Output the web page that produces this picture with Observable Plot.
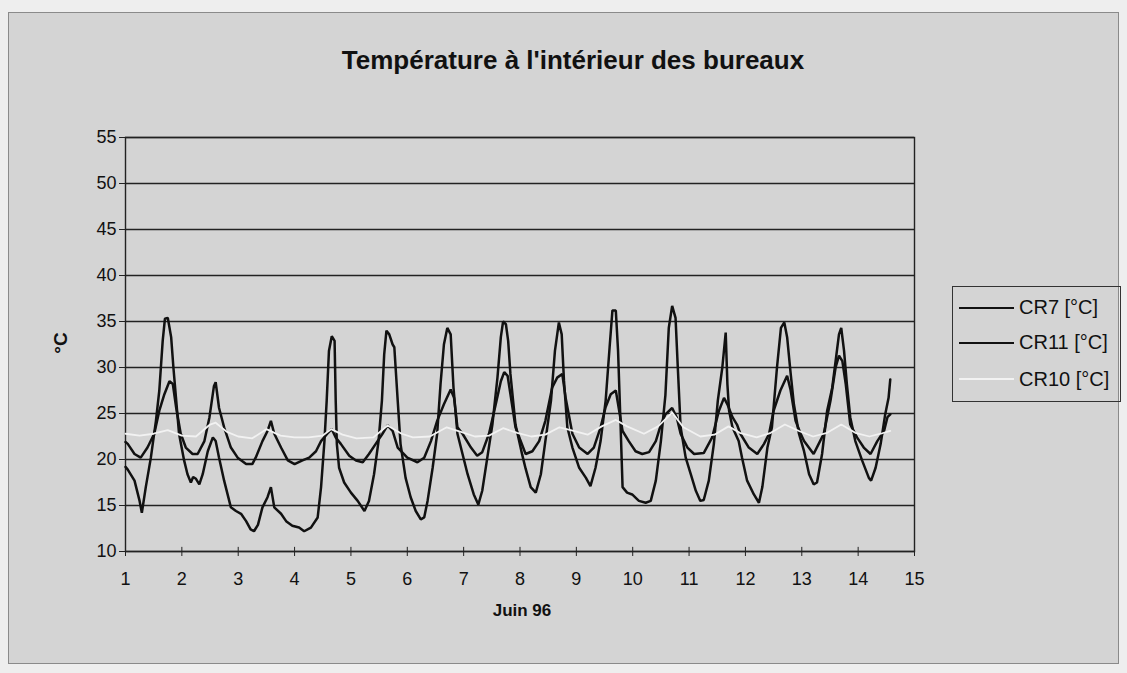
<!DOCTYPE html>
<html>
<head>
<meta charset="utf-8">
<script src="https://cdn.jsdelivr.net/npm/d3@7"></script>
<script src="https://cdn.jsdelivr.net/npm/@observablehq/plot@0.6"></script>
<style>
  html, body { margin: 0; padding: 0; }
  body { width: 1127px; height: 673px; background: #eeeeee; position: relative; overflow: hidden;
         font-family: "Liberation Sans", Arial, sans-serif; color: #111; }
  #frame { position: absolute; left: 8px; top: 12px; width: 1111px; height: 652px; background: #d4d4d4; border: 1px solid #8a8a8a; box-sizing: border-box; }
  #chart { position: absolute; left: 0; top: 0; }
  .abs { position: absolute; white-space: nowrap; }
  #title { left: 0; width: 1146px; top: 47px; text-align: center; font-weight: bold; font-size: 26px; line-height: 26px; }
  #ylab { left: 61px; top: 343px; transform: translate(-50%, -50%) rotate(-90deg); font-weight: bold; font-size: 19px; }
  #xlab { left: 522px; top: 611px; transform: translate(-50%, -50%); font-weight: bold; font-size: 17px; }
  #legend { position: absolute; left: 952px; top: 286px; width: 169px; height: 116px; border: 1px solid #333; box-sizing: border-box; }
  .row { position: absolute; left: 6px; height: 24px; display: flex; align-items: center; font-size: 20px; }
  .row svg { margin-right: 5px; }
</style>
</head>
<body>
<div id="frame"></div>
<div id="chart"></div>
<div id="title" class="abs">Température à l'intérieur des bureaux</div>
<div id="ylab" class="abs">°C</div>
<div id="xlab" class="abs">Juin 96</div>
<div id="legend"></div>
<script>
// ---- data (day of June 1996, temperature °C) ----
const seriesNames = ["CR7 [°C]", "CR11 [°C]", "CR10 [°C]"];
const xTicks = [1,2,3,4,5,6,7,8,9,10,11,12,13,14,15];
const yTicks = [10,15,20,25,30,35,40,45,50,55];

const cr7 = [
[1.00,19.2],[1.04,18.9],[1.16,17.7],[1.25,15.5],[1.29,14.2],[1.36,17.0],[1.45,20.2],[1.54,24.2],[1.60,27.5],[1.66,32.9],
[1.70,35.3],[1.75,35.4],[1.81,33.3],[1.85,30.0],[1.90,26.4],[1.95,22.8],[2.04,19.9],[2.10,18.4],[2.16,17.5],[2.20,18.1],
[2.25,17.9],[2.31,17.3],[2.37,18.4],[2.46,20.9],[2.55,22.4],[2.60,22.0],[2.66,20.2],[2.75,17.7],[2.87,14.8],[2.96,14.4],
[3.05,14.1],[3.14,13.3],[3.22,12.4],[3.28,12.2],[3.35,12.9],[3.43,14.8],[3.52,15.9],[3.58,17.0],[3.64,14.8],[3.76,14.1],
[3.85,13.3],[3.96,12.8],[4.08,12.6],[4.17,12.2],[4.29,12.6],[4.41,13.7],[4.47,17.0],[4.53,22.0],[4.57,26.4],[4.61,31.8],
[4.66,33.4],[4.71,32.9],[4.73,26.4],[4.75,21.7],[4.79,19.1],[4.88,17.5],[5.00,16.4],[5.12,15.5],[5.24,14.4],[5.32,15.5],
[5.41,18.4],[5.49,22.0],[5.55,26.4],[5.59,31.4],[5.63,34.0],[5.68,33.6],[5.74,32.5],[5.77,32.2],[5.83,26.4],[5.88,21.7],
[5.97,18.0],[6.06,15.9],[6.15,14.4],[6.24,13.5],[6.30,13.7],[6.36,15.5],[6.45,19.1],[6.53,22.8],[6.59,28.2],[6.65,32.5],
[6.71,34.3],[6.77,33.6],[6.82,27.8],[6.89,22.8],[6.98,20.6],[7.07,18.4],[7.18,16.2],[7.26,15.1],[7.33,16.6],[7.42,20.2],
[7.51,23.8],[7.60,28.9],[7.66,33.3],[7.70,35.0],[7.75,34.7],[7.79,32.9],[7.83,29.3],[7.92,23.8],[8.04,20.5],[8.10,19.0],
[8.19,17.0],[8.28,16.4],[8.37,18.4],[8.45,22.0],[8.55,26.4],[8.62,31.8],[8.69,34.9],[8.74,33.6],[8.78,28.6],[8.84,23.5],
[8.93,21.3],[9.05,19.1],[9.17,18.0],[9.25,17.1],[9.34,19.1],[9.43,22.0],[9.52,26.4],[9.59,32.2],[9.64,36.2],[9.70,36.2],
[9.74,31.8],[9.78,24.6],[9.82,17.0],[9.90,16.4],[9.99,16.2],[10.11,15.5],[10.23,15.3],[10.32,15.5],[10.41,17.7],[10.50,22.0],
[10.58,27.0],[10.64,34.3],[10.70,36.7],[10.76,35.4],[10.80,30.0],[10.85,23.5],[10.94,20.2],[11.03,18.4],[11.12,16.6],[11.20,15.5],
[11.26,15.6],[11.35,17.7],[11.44,21.7],[11.51,26.4],[11.59,30.0],[11.65,33.8],[11.68,28.2],[11.71,25.3],[11.77,23.5],[11.88,22.0],
[11.94,20.2],[12.03,17.7],[12.15,16.2],[12.24,15.3],[12.30,17.0],[12.39,21.3],[12.47,23.5],[12.56,30.0],[12.63,34.3],[12.69,34.9],
[12.74,33.3],[12.80,29.5],[12.86,26.0],[12.95,22.8],[13.04,20.9],[13.13,18.4],[13.21,17.3],[13.27,17.5],[13.36,20.6],[13.45,25.3],
[13.54,27.8],[13.60,30.7],[13.66,33.6],[13.70,34.3],[13.75,31.8],[13.80,28.2],[13.86,24.6],[13.95,22.0],[14.07,19.9],[14.19,18.0],
[14.23,17.7],[14.31,19.1],[14.40,21.7],[14.48,24.9],[14.54,26.7],[14.57,28.7]
];

const cr11 = [
[1.00,21.9],[1.04,21.7],[1.16,20.6],[1.27,20.2],[1.39,21.3],[1.51,22.8],[1.60,25.3],[1.69,27.1],[1.78,28.5],[1.84,28.2],
[1.90,25.6],[1.98,22.8],[2.07,21.3],[2.19,20.6],[2.28,20.6],[2.40,22.0],[2.49,24.6],[2.57,28.0],[2.60,28.4],[2.66,25.6],
[2.75,23.5],[2.87,21.3],[2.99,20.2],[3.14,19.5],[3.25,19.5],[3.31,20.2],[3.43,22.0],[3.52,23.1],[3.58,24.2],[3.64,22.8],
[3.76,21.3],[3.88,19.9],[4.00,19.5],[4.14,19.9],[4.26,20.2],[4.38,20.9],[4.47,22.0],[4.58,22.8],[4.66,23.3],[4.73,22.4],
[4.82,21.7],[4.97,20.4],[5.09,19.9],[5.21,19.7],[5.32,20.6],[5.44,21.7],[5.56,22.8],[5.65,23.7],[5.74,23.1],[5.83,21.3],
[6.00,20.2],[6.18,19.7],[6.30,20.2],[6.42,22.0],[6.53,24.2],[6.65,26.0],[6.77,27.6],[6.83,26.7],[6.89,23.5],[6.98,22.8],
[7.13,21.3],[7.24,20.4],[7.33,20.8],[7.45,22.8],[7.57,26.0],[7.66,28.5],[7.72,29.5],[7.78,29.1],[7.83,27.1],[7.92,23.5],
[8.00,22.2],[8.10,20.6],[8.22,20.9],[8.34,22.0],[8.45,24.2],[8.57,27.8],[8.66,28.9],[8.75,29.3],[8.81,26.7],[8.93,22.8],
[9.05,21.3],[9.20,20.6],[9.31,21.3],[9.43,23.5],[9.52,25.7],[9.61,27.1],[9.70,27.5],[9.76,25.3],[9.82,23.1],[9.93,22.0],
[10.05,20.9],[10.17,20.6],[10.29,20.8],[10.41,22.0],[10.50,23.8],[10.58,24.9],[10.70,25.6],[10.78,24.6],[10.85,22.8],[10.97,21.3],
[11.09,20.6],[11.26,20.7],[11.41,22.4],[11.53,25.3],[11.62,26.7],[11.68,26.0],[11.77,24.6],[11.85,23.8],[11.91,22.8],[12.06,21.3],
[12.21,20.6],[12.33,21.7],[12.42,22.8],[12.50,25.3],[12.62,27.5],[12.74,29.1],[12.80,27.6],[12.89,24.2],[12.98,22.8],[13.04,22.0],
[13.21,20.6],[13.30,21.7],[13.39,22.8],[13.51,26.4],[13.60,30.0],[13.66,31.3],[13.72,30.7],[13.78,28.2],[13.86,23.8],[13.98,22.4],
[14.10,21.3],[14.22,20.6],[14.34,22.0],[14.46,23.1],[14.52,24.6],[14.57,24.9]
];

const cr10 = [
[1.00,22.8],[1.25,22.6],[1.50,22.8],[1.75,23.2],[2.00,22.6],[2.25,22.5],[2.50,23.8],[2.60,24.0],[2.80,23.0],[3.00,22.5],
[3.25,22.3],[3.50,23.3],[3.75,22.6],[4.00,22.4],[4.25,22.4],[4.50,22.6],[4.65,23.3],[4.85,22.7],[5.10,22.3],[5.40,22.4],
[5.65,23.7],[5.90,22.8],[6.10,22.4],[6.40,22.5],[6.70,23.5],[6.95,23.0],[7.20,22.5],[7.45,22.6],[7.70,23.4],[7.95,22.9],
[8.20,22.5],[8.45,22.7],[8.70,23.5],[8.90,23.2],[9.20,22.7],[9.45,23.6],[9.70,24.3],[9.90,23.6],[10.20,22.8],[10.45,23.6],
[10.70,25.1],[10.90,23.5],[11.20,22.5],[11.45,22.7],[11.70,23.6],[11.90,22.9],[12.20,22.4],[12.45,22.9],[12.70,23.8],[12.95,23.1],
[13.20,22.5],[13.45,22.9],[13.70,23.8],[13.95,22.9],[14.20,22.5],[14.40,22.8],[14.57,23.1]
];

const toRows = (arr) => arr.map(([day, temp]) => ({day, temp}));
const lineColors = ["#111111", "#111111", "#f2f2f2"];

const chart = Plot.plot({
  width: 1127,
  height: 673,
  marginLeft: 125,
  marginRight: 213,
  marginTop: 137,
  marginBottom: 122,
  style: {background: "transparent", fontFamily: "'Liberation Sans', Arial, sans-serif", color: "#111"},
  x: {domain: [1, 15], label: null},
  y: {domain: [10, 55], label: null},
  marks: [
    Plot.ruleY(yTicks, {stroke: "#222", strokeWidth: 1.6}),
    Plot.frame({stroke: "#222", strokeWidth: 1.4}),
    Plot.axisY(yTicks, {tickSize: 6, tickPadding: 3, fontSize: 18, stroke: "#222", label: null}),
    Plot.axisX(xTicks, {tickSize: 5, tickPadding: 16, fontSize: 18, stroke: "#222", label: null, tickFormat: d => String(d)}),
    Plot.ruleX(xTicks, {y1: 10, y2: 10.45, stroke: "#222", strokeWidth: 1}),
    Plot.line(toRows(cr7), {x: "day", y: "temp", stroke: lineColors[0], strokeWidth: 2.5, strokeLinejoin: "miter"}),
    Plot.line(toRows(cr11), {x: "day", y: "temp", stroke: lineColors[1], strokeWidth: 2.5, strokeLinejoin: "miter"}),
    Plot.line(toRows(cr10), {x: "day", y: "temp", stroke: lineColors[2], strokeWidth: 1.8})
  ]
});
document.getElementById("chart").appendChild(chart);

// legend
const legend = document.getElementById("legend");
const rowCenters = [20.5, 55.5, 92];
seriesNames.forEach((name, i) => {
  const row = document.createElement("div");
  row.className = "row";
  row.style.top = (rowCenters[i] - 12) + "px";
  row.innerHTML = `<svg width="55" height="6"><line x1="0" y1="3" x2="55" y2="3" stroke="${lineColors[i]}" stroke-width="2"/></svg><span>${name}</span>`;
  legend.appendChild(row);
});
</script>
</body>
</html>
